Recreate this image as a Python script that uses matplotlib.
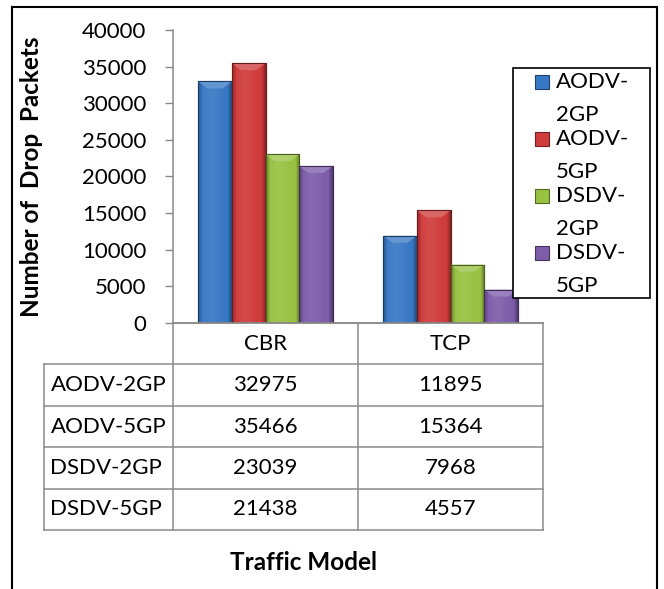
import matplotlib.pyplot as plt
from matplotlib.patches import Polygon, Rectangle
from matplotlib.lines import Line2D
import matplotlib.colors as mcolors
import numpy as np

plt.rcParams['font.family'] = ['Lato', 'DejaVu Sans']

CATEGORIES = ['CBR', 'TCP']
SERIES = ['AODV-2GP', 'AODV-5GP', 'DSDV-2GP', 'DSDV-5GP']
AODV_2GP = [32975, 11895]
AODV_5GP = [35466, 15364]
DSDV_2GP = [23039, 7968]
DSDV_5GP = [21438, 4557]
Y_TICKS = [0, 5000, 10000, 15000, 20000, 25000, 30000, 35000, 40000]
COLORS = ['#3878C4', '#D03B3B', '#98C242', '#7D5CA9']

VALUES = [AODV_2GP, AODV_5GP, DSDV_2GP, DSDV_5GP]

W, H, DPI = 664, 589, 100
FS = 16
FS_BOLD = 17.5
GRID = '#8A8A8A'


def box(x0, y0, x1, y1):
    # pixel box (top-left origin) -> figure fraction rect
    return [x0 / W, 1 - y1 / H, (x1 - x0) / W, (y1 - y0) / H]


def px(x, y):
    return x / W, 1 - y / H


def shade(c, k):
    c = np.array(mcolors.to_rgb(c))
    if k >= 0:
        return c + (1 - c) * k
    return c * (1 + k)


def profile(t):
    if t < 0.12:
        return -0.28 + 0.28 * t / 0.12
    if t > 0.88:
        return -0.38 * (t - 0.88) / 0.12
    return 0.08 * np.exp(-((t - 0.4) / 0.25) ** 2)


fig = plt.figure(figsize=(W / DPI, H / DPI), dpi=DPI)
ax = fig.add_axes(box(173, 30, 543, 323))

x = np.arange(len(CATEGORIES))
width = 0.182
bevel = 950
for i, (vals, col) in enumerate(zip(VALUES, COLORS)):
    bars = ax.bar(x + (i - 1.5) * width, vals, width, color=col,
                  edgecolor=shade(col, -0.45), linewidth=0.8, zorder=2)
    grad = np.array([[shade(col, profile(t)) for t in np.linspace(0, 1, 64)]])
    for b in bars:
        x0, w, h = b.get_x(), b.get_width(), b.get_height()
        im = ax.imshow(grad, extent=(x0, x0 + w, 0, h), aspect='auto',
                       interpolation='bilinear', zorder=2.5)
        im.set_clip_path(b)
        top = Polygon([(x0, h), (x0 + w, h), (x0 + 0.72 * w, h - bevel),
                       (x0 + 0.28 * w, h - bevel)], closed=True,
                      facecolor=shade(col, 0.22), edgecolor='none', zorder=2.6)
        ax.add_patch(top)
        ax.add_patch(Rectangle((x0, 0), w, h, facecolor='none',
                               edgecolor=shade(col, -0.5), linewidth=0.8, zorder=2.7))

ax.set_xlim(-0.5, 1.5)
ax.set_ylim(0, 40000)
ax.set_yticks(Y_TICKS)
ax.set_xticks([])
ax.tick_params(axis='y', direction='out', length=6, width=1, color=GRID,
               labelsize=FS, pad=13)
for s in ['top', 'right']:
    ax.spines[s].set_visible(False)
for s in ['left', 'bottom']:
    ax.spines[s].set_color(GRID)
    ax.spines[s].set_linewidth(1.1)
ax.set_ylabel('Number of  Drop  Packets', fontsize=FS_BOLD, fontweight='bold')
ax.yaxis.set_label_coords(-0.352, 0.5)

# data table
axt = fig.add_axes(box(44, 323, 543, 530))
xmin = -0.5 - 129 / 185
axt.set_xlim(xmin, 1.5)
axt.set_ylim(len(SERIES) + 1, 0)
axt.axis('off')
for r in range(1, len(SERIES) + 2):
    axt.plot([xmin, 1.5], [r, r], color=GRID, lw=1.1, clip_on=False)
axt.plot([-0.5, 1.5], [0, 0], color=GRID, lw=1.1, clip_on=False)
for xv in [-0.5, 0.5, 1.5]:
    axt.plot([xv, xv], [0, len(SERIES) + 1], color=GRID, lw=1.1, clip_on=False)
axt.plot([xmin, xmin], [1, len(SERIES) + 1], color=GRID, lw=1.1, clip_on=False)
for j, cat in enumerate(CATEGORIES):
    axt.text(j, 0.5, cat, ha='center', va='center', fontsize=FS)
for i, (name, vals) in enumerate(zip(SERIES, VALUES)):
    axt.text(xmin + 0.035, i + 1.5, name, ha='left', va='center', fontsize=FS)
    for j, v in enumerate(vals):
        axt.text(j, i + 1.5, str(v), ha='center', va='center', fontsize=FS)

fig.text(*px(304, 563), 'Traffic Model', ha='center', va='center',
         fontsize=FS_BOLD, fontweight='bold')

# legend
fig.patches.append(Rectangle(px(513, 298), 137 / W, 230 / H, transform=fig.transFigure,
                             facecolor='white', edgecolor='black', linewidth=1.2,
                             zorder=5))
for i, (name, col) in enumerate(zip(SERIES, COLORS)):
    yc = 82 + 57 * i
    fig.patches.append(Rectangle(px(535, yc + 7), 14 / W, 14 / H,
                                 transform=fig.transFigure, facecolor=col,
                                 edgecolor=shade(col, -0.45), linewidth=0.8, zorder=6))
    first, second = name.split('-')
    fig.text(*px(556, yc), first + '-', ha='left', va='center', fontsize=FS, zorder=6)
    fig.text(*px(556, yc + 33), second, ha='left', va='center', fontsize=FS, zorder=6)

# outer frame
for xs, ys in [([12, 12], [7, 600]), ([12, 657], [7, 7]), ([657, 657], [7, 600])]:
    fig.lines.append(Line2D([a / W for a in xs], [1 - b / H for b in ys],
                            transform=fig.transFigure, color='black', lw=1.5))

fig.savefig('out.png', dpi=DPI)
